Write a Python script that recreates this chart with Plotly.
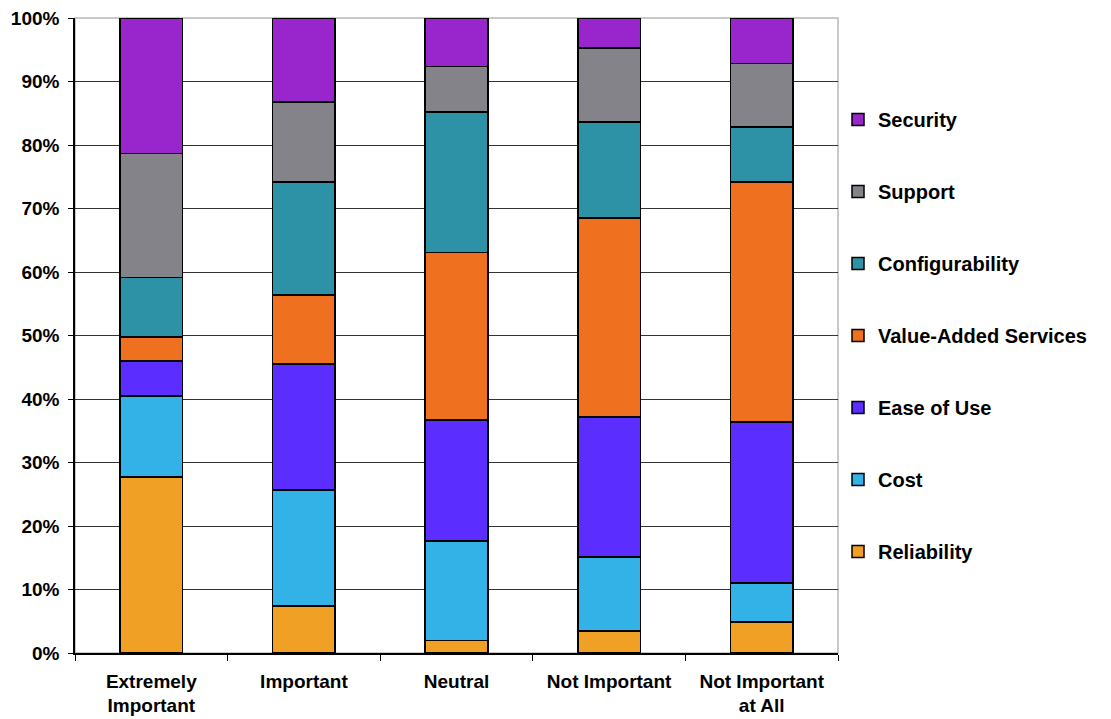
import plotly.graph_objects as go

categories = ["Extremely<br>Important", "Important", "Neutral", "Not Important", "Not Important<br>at All"]
series_names = ["Reliability", "Cost", "Ease of Use", "Value-Added Services", "Configurability", "Support", "Security"]
reliability = [27.7, 7.4, 2.0, 3.5, 4.9]
cost = [12.8, 18.3, 15.6, 11.6, 6.1]
ease_of_use = [5.5, 19.8, 19.1, 22.1, 25.4]
value_added = [3.8, 10.9, 26.4, 31.3, 37.8]
configurability = [9.3, 17.8, 22.1, 15.1, 8.6]
support = [19.6, 12.6, 7.2, 11.7, 10.0]
security = [21.3, 13.2, 7.6, 4.7, 7.2]
y_ticks = [0, 10, 20, 30, 40, 50, 60, 70, 80, 90, 100]
y_tick_labels = ["0%", "10%", "20%", "30%", "40%", "50%", "60%", "70%", "80%", "90%", "100%"]

series_values = [reliability, cost, ease_of_use, value_added, configurability, support, security]
colors = ["#F0A024", "#33B2E8", "#5B2DFF", "#EF7120", "#2E92A6", "#85838A", "#9925CC"]

FONT = "Liberation Sans, Arial, sans-serif"

fig = go.Figure()
n = len(series_names)
for i, (name, vals, col) in enumerate(zip(series_names, series_values, colors)):
    fig.add_trace(go.Bar(
        x=categories, y=vals, name=name, legendgroup=name, legendrank=n - i,
        marker=dict(color=col, line=dict(color="black", width=1.5)),
    ))

fig.update_layout(
    width=1103, height=711,
    margin=dict(l=67, r=273, t=10, b=66),
    barmode="stack", bargap=0.59,
    plot_bgcolor="white", paper_bgcolor="white",
    font=dict(family=FONT, size=19, color="black", weight="bold"),
    legend=dict(
        x=1.0, xanchor="left", y=0.5, yanchor="middle",
        traceorder="grouped", tracegroupgap=43,
        font=dict(family=FONT, size=20, color="black", weight="bold"),
        bgcolor="rgba(0,0,0,0)",
    ),
    shapes=[dict(type="rect", xref="paper", yref="paper", x0=0, x1=1, y0=0, y1=1,
                 line=dict(color="#B8B8B8", width=1.5), layer="below")],
)
fig.update_xaxes(
    type="category", tickson="boundaries", ticks="outside", ticklen=6, tickcolor="black",
    showline=True, linecolor="black", linewidth=1.5, showgrid=False,
    ticklabelstandoff=10, automargin=False,
    tickfont=dict(family=FONT, size=19, color="black", weight="bold"),
)
fig.update_yaxes(
    range=[0, 100], tickvals=y_ticks, ticktext=y_tick_labels, ticks="outside", ticklen=5,
    tickcolor="black", showline=True, linecolor="black", linewidth=1.5,
    showgrid=True, gridcolor="#333333", gridwidth=1, zeroline=False,
    ticklabeloverflow="allow", ticklabelstandoff=5, automargin=False,
    tickfont=dict(family=FONT, size=19, color="black", weight="bold"),
)

fig.write_html("out.html")
